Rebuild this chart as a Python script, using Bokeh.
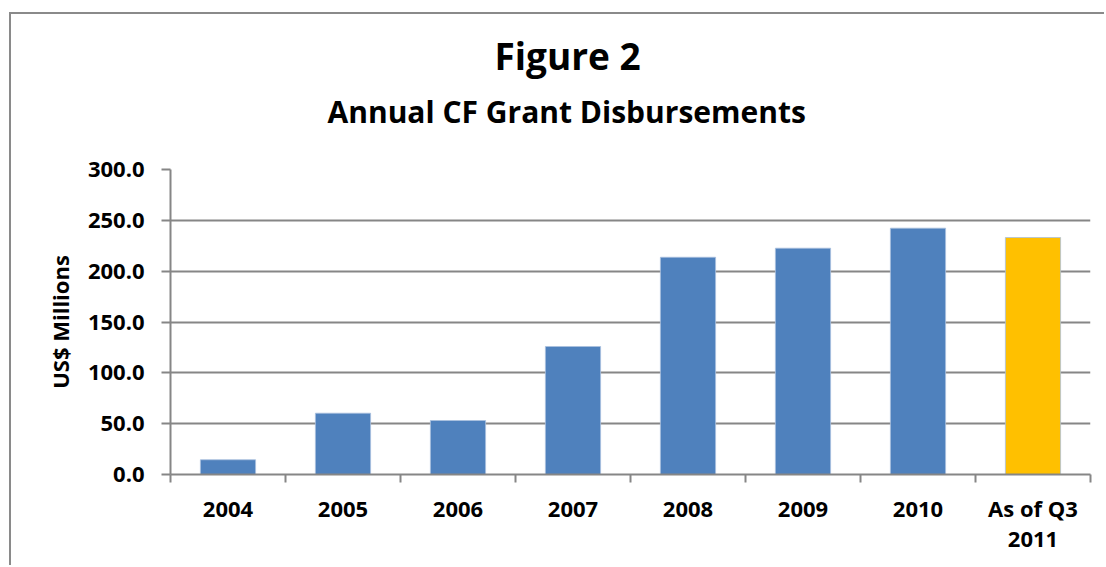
from bokeh.plotting import figure
from bokeh.models import Range1d, FixedTicker, NumeralTickFormatter, Title, ColumnDataSource
from bokeh.embed import file_html
from bokeh.resources import INLINE

# ---- data ----
categories = ["2004", "2005", "2006", "2007", "2008", "2009", "2010", "As of Q3\n2011"]
values = [14.5, 60.3, 53.1, 125.9, 213.7, 222.6, 242.3, 233.1]
colors = ["#4F81BD"] * 7 + ["#FFC000"]
y_ticks = [0, 50, 100, 150, 200, 250, 300]
title_text = "Figure 2"
subtitle_text = "Annual CF Grant Disbursements"
y_label = "US$ Millions"

FONT = "Open Sans"
GRAY = "#868686"

n = len(categories)
xs = [i + 0.5 for i in range(n)]

p = figure(width=1095, height=553, output_backend="svg", toolbar_location=None,
           x_range=Range1d(0, n), y_range=Range1d(0, 300),
           min_border_left=159, min_border_right=16, min_border_top=155,
           min_border_bottom=93)
p.styles = {"border-left": "2px solid #8a8a8a", "border-top": "2px solid #8a8a8a",
            "margin-left": "9px", "margin-top": "12px"}
p.outline_line_color = None
p.background_fill_color = "white"
p.border_fill_color = "white"

src = ColumnDataSource(dict(x=xs, top=values, color=colors))
p.vbar(x="x", top="top", width=0.48, bottom=0, fill_color="color",
       line_color="#a9c0de", line_width=0.8, source=src)

# x axis: labels at category centres, tick marks at boundaries
p.xaxis.ticker = FixedTicker(ticks=xs, minor_ticks=list(range(n + 1)))
p.xaxis.major_label_overrides = {x: c for x, c in zip(xs, categories)}
p.xaxis.major_tick_out = 0
p.xaxis.major_tick_in = 0
p.xaxis.minor_tick_out = 8
p.xaxis.minor_tick_in = 0
p.xaxis.minor_tick_line_color = GRAY
p.xaxis.minor_tick_line_width = 2
p.xaxis.axis_line_color = GRAY
p.xaxis.axis_line_width = 2
p.xaxis.major_label_text_font = FONT
p.xaxis.major_label_text_font_style = "bold"
p.xaxis.major_label_text_font_size = "22px"
p.xaxis.major_label_text_line_height = 1.0
p.xaxis.major_label_text_color = "black"
p.xaxis.major_label_standoff = 10
p.xgrid.grid_line_color = None

# y axis
p.yaxis.ticker = FixedTicker(ticks=y_ticks, minor_ticks=[])
p.yaxis.formatter = NumeralTickFormatter(format="0.0")
p.yaxis.major_tick_out = 9
p.yaxis.major_tick_in = 0
p.yaxis.major_tick_line_color = GRAY
p.yaxis.major_tick_line_width = 2
p.yaxis.minor_tick_line_color = None
p.yaxis.axis_line_color = GRAY
p.yaxis.axis_line_width = 2
p.yaxis.major_label_text_font = FONT
p.yaxis.major_label_text_font_style = "bold"
p.yaxis.major_label_text_font_size = "22px"
p.yaxis.major_label_text_color = "black"
p.yaxis.major_label_standoff = 17
p.yaxis.axis_label = y_label
p.yaxis.axis_label_text_font = FONT
p.yaxis.axis_label_text_font_style = "bold"
p.yaxis.axis_label_text_font_size = "22px"
p.yaxis.axis_label_text_color = "black"
p.yaxis.axis_label_standoff = 10
p.ygrid.grid_line_color = GRAY
p.ygrid.grid_line_width = 2

# titles (first added sits nearest the plot)
p.add_layout(Title(text=subtitle_text, align="left", offset=157,
                   text_font=FONT, text_font_style="bold", text_font_size="30px",
                   text_color="black", standoff=76), "above")
p.add_layout(Title(text=title_text, align="left", offset=324,
                   text_font=FONT, text_font_style="bold", text_font_size="37px",
                   text_color="black", standoff=-60), "above")

open("out.html", "w").write(file_html(p, INLINE))
